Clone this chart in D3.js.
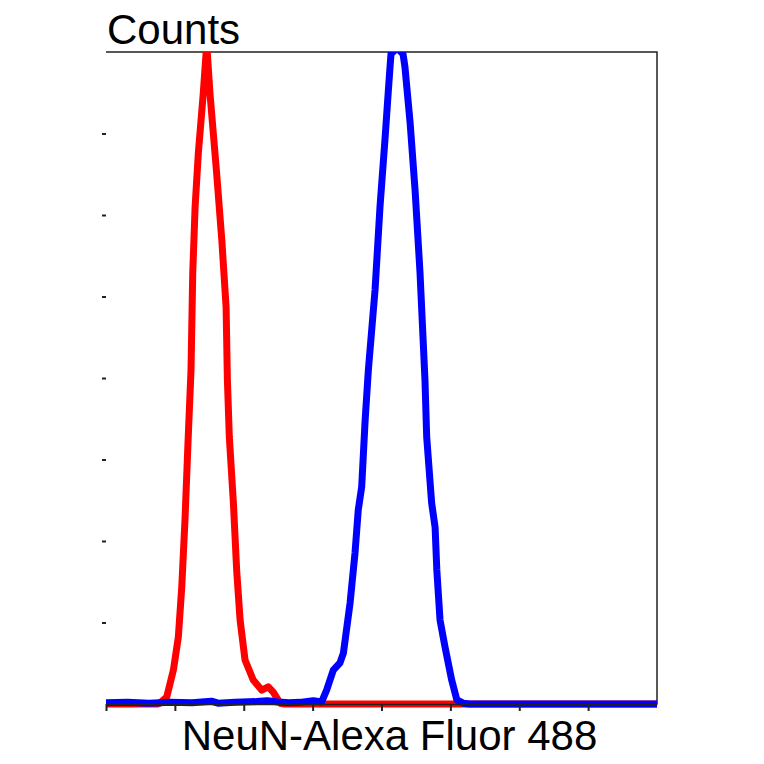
<!DOCTYPE html>
<html>
<head>
<meta charset="utf-8">
<script src="https://cdn.jsdelivr.net/npm/d3@7"></script>
<style>
  body { margin: 0; background: #fff; }
  text { font-family: "Liberation Sans", Arial, sans-serif; }
</style>
</head>
<body>
<script>
// channel / counts
var redChannel = [0, 24, 25, 28.2, 31.3, 33.6, 35.2, 36.7, 38.2, 39.5, 40.3, 41.4, 42.9, 45.2, 46.8,
  48.3, 51.4, 53.8, 55.8, 56.4, 57.3, 59.2, 60.7, 62.3, 64.6, 68.4, 72.4, 75.4, 77.7, 80.9, 83, 256];
var redCounts = [0, 0, 0.2, 1.7, 8.3, 16.4, 28.7, 45.2, 65.5, 82, 105.8, 122, 135.2, 149.9, 162,
  149.9, 130.3, 113.9, 97.4, 79.5, 65.5, 49.3, 32.9, 20.6, 10.8, 5.9, 3.4, 4.2, 2.9, 0.2, 0, 0];

var blueChannel = [0, 10, 20, 30, 40, 49, 52, 60, 70, 75, 80, 85, 90, 96.3, 100.2, 102.5, 105.6, 108.7,
  110.3, 113.4, 115.7, 117.2, 118.8, 120.4, 121.9, 125, 127.3, 129.6, 131.2, 132.4, 135.2, 138, 138.9,
  141.3, 143.6, 145.9, 148.2, 149, 151.3, 152.9, 153.7, 155.2, 157.5, 160.6, 163, 166, 169, 256];
var blueCounts = [0.3, 0.4, 0.2, 0.4, 0.3, 0.7, 0.2, 0.4, 0.6, 0.8, 0.5, 0.3, 0.4, 0.8, 0.5, 3.4, 8.3, 10.1,
  12.5, 24.8, 37.1, 47.6, 53.3, 69.7, 82, 101.6, 122, 138.4, 150.7, 159.5, 161, 159.5, 156.3,
  142.6, 126.1, 105.8, 79.5, 65.5, 49.3, 43.4, 32.9, 20.6, 14, 5.9, 1, 0.2, 0, 0];

var xTicks = [0, 32, 64, 96, 128, 160, 192, 224];
var yTicks = [20, 40, 60, 80, 100, 120, 140];

var yLabel = "Counts";
var xLabel = "NeuN-Alexa Fluor 488";

window.onload = () => {
  var margin = { top: 52, right: 107, bottom: 60, left: 106 },
    width = 764 - margin.left - margin.right,
    height = 764 - margin.top - margin.bottom;

  var x = d3.scaleLinear().domain([0, 256]).range([0, width]);
  var y = d3.scaleLinear().domain([0, 160]).range([height, 0]);

  var svg = d3.select("body").append("svg")
    .attr("width", 764)
    .attr("height", 764)
    .append("g")
    .attr("transform", "translate(" + margin.left + "," + margin.top + ")");

  svg.append("clipPath").attr("id", "plot")
    .append("rect").attr("x", -10).attr("y", 0).attr("width", width + 10).attr("height", height + 10);

  // frame: top and right
  svg.append("path")
    .attr("d", "M0,0H" + width + "V" + height)
    .attr("fill", "none")
    .attr("stroke", "#222")
    .attr("stroke-width", 1.5);

  // left ticks, no axis line
  var yAxis = svg.append("g")
    .call(d3.axisLeft(y).tickValues(yTicks).tickSize(4).tickFormat(""));
  yAxis.select(".domain").remove();
  yAxis.selectAll("line").attr("stroke", "#222").attr("stroke-width", 2);

  var line = d3.line()
    .x(function (d) { return x(d[0]); })
    .y(function (d) { return y(d[1]); });

  var red = d3.zip(redChannel, redCounts);
  var blue = d3.zip(blueChannel, blueCounts);

  var curves = svg.append("g").attr("clip-path", "url(#plot)");
  curves.append("path").datum(red)
    .attr("d", line)
    .attr("fill", "none")
    .attr("stroke", "#ff0000")
    .attr("stroke-width", 7)
    .attr("stroke-linejoin", "round");
  curves.append("path").datum(blue)
    .attr("d", line)
    .attr("fill", "none")
    .attr("stroke", "#0000ff")
    .attr("stroke-width", 7)
    .attr("stroke-linejoin", "round");

  // bottom axis
  var xAxis = svg.append("g")
    .attr("transform", "translate(0," + height + ")")
    .call(d3.axisBottom(x).tickValues(xTicks).tickSize(7).tickSizeOuter(0).tickFormat(""));
  xAxis.select(".domain").attr("stroke", "#222").attr("stroke-width", 1.5);
  xAxis.selectAll("line").attr("stroke", "#222").attr("stroke-width", 2);

  svg.append("text")
    .attr("x", 1)
    .attr("y", -8)
    .attr("font-size", 42)
    .attr("fill", "#000")
    .text(yLabel);

  svg.append("text")
    .attr("x", width / 2 + 8)
    .attr("y", height + 46)
    .attr("text-anchor", "middle")
    .attr("font-size", 42)
    .attr("fill", "#000")
    .text(xLabel);
};
</script>
</body>
</html>
